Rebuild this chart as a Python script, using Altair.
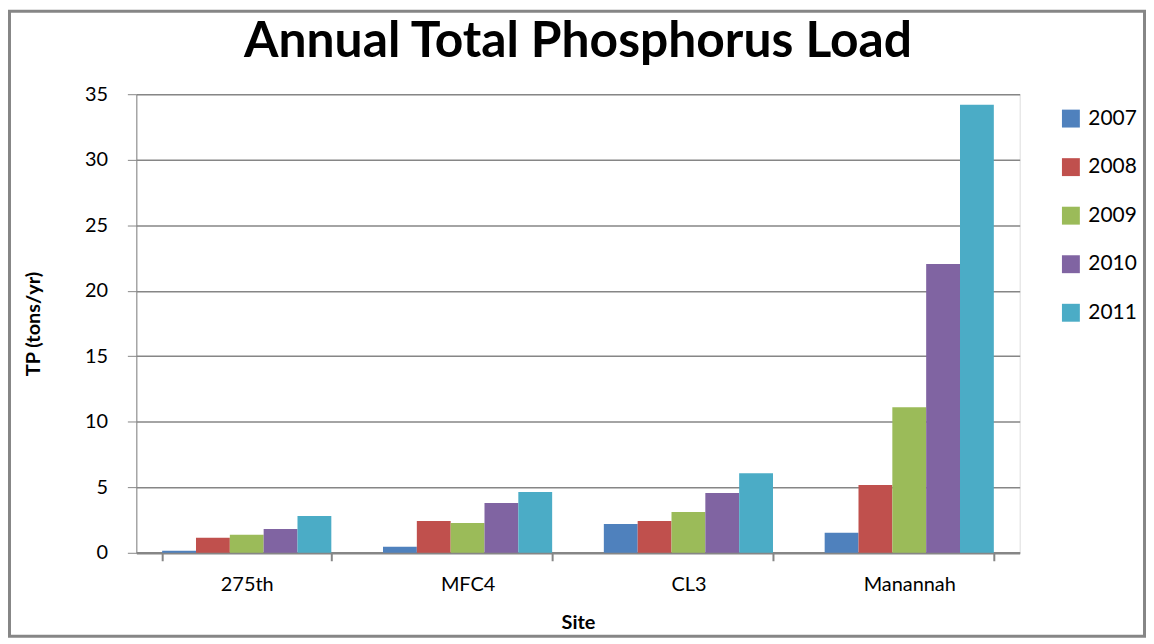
import altair as alt
import pandas as pd

sites = ["275th", "MFC4", "CL3", "Manannah"]
years = ["2007", "2008", "2009", "2010", "2011"]
v2007 = [0.15, 0.46, 2.2, 1.53]
v2008 = [1.14, 2.43, 2.43, 5.18]
v2009 = [1.37, 2.28, 3.11, 11.1]
v2010 = [1.82, 3.8, 4.56, 22.04]
v2011 = [2.8, 4.64, 6.07, 34.2]
colors = ["#4F81BD", "#C0504D", "#9BBB59", "#8064A2", "#4BACC6"]

series = [v2007, v2008, v2009, v2010, v2011]
rows = []
for yr, vals in zip(years, series):
    for s, v in zip(sites, vals):
        rows.append({"Site": s, "Year": yr, "TP": v})
df = pd.DataFrame(rows)

FONT = "Lato"
GRAY = "#868686"

bars = alt.Chart(df).mark_bar().encode(
    x=alt.X("Site:N", sort=sites, title="Site",
            scale=alt.Scale(paddingInner=0.234, paddingOuter=0.117),
            axis=alt.Axis(labelAngle=0, tickBand="extent", ticks=True, tickSize=8,
                          tickColor=GRAY, tickWidth=2, domainColor=GRAY, domainWidth=2.5,
                          labelFontSize=20, labelColor="#000000", labelFont=FONT,
                          labelPadding=14, titleFont=FONT, titleFontSize=20,
                          titleFontWeight="bold", titleColor="#000000", titlePadding=18,
                          grid=False)),
    xOffset=alt.XOffset("Year:N", sort=years,
                        scale=alt.Scale(paddingInner=0, paddingOuter=0)),
    y=alt.Y("TP:Q", title="TP (tons/yr)",
            scale=alt.Scale(domain=[0, 35], nice=False),
            axis=alt.Axis(values=[0, 5, 10, 15, 20, 25, 30, 35], grid=True,
                          gridColor=GRAY, gridWidth=1.5, domainColor=GRAY, domainWidth=1,
                          tickColor=GRAY, tickSize=9, labelFontSize=20,
                          labelColor="#000000", labelFont=FONT, labelPadding=20,
                          titleFont=FONT, titleFontSize=20, titleFontWeight="bold",
                          titleColor="#000000", titlePadding=41)),
    color=alt.Color("Year:N", sort=years,
                    scale=alt.Scale(domain=years, range=colors),
                    legend=alt.Legend(title=None, orient="none", legendX=929, legendY=14,
                                      symbolType="square", symbolSize=324,
                                      symbolStrokeWidth=0, labelFontSize=21,
                                      labelFont=FONT, labelColor="#000000",
                                      rowPadding=26.8, labelOffset=7)),
)

frame = alt.Chart(pd.DataFrame({"a": [0]})).mark_rect(
    fill=None, stroke=GRAY, strokeWidth=3
).encode(x=alt.value(-127.5), x2=alt.value(1013.5), y=alt.value(-83.5), y2=alt.value(545))

chart = alt.layer(bars, frame).properties(
    width=888, height=461,
    title=alt.TitleParams("Annual Total Phosphorus Load", font=FONT, fontSize=50,
                          fontWeight="bold", color="#000000", anchor="middle", offset=-58),
    autosize=alt.AutoSizeParams(type="none"),
    padding={"left": 129, "top": 85, "right": 127, "bottom": 86},
).configure_view(stroke=None).configure(background="#ffffff")

chart.save("out.html", embed_options={"renderer": "svg", "actions": False})
